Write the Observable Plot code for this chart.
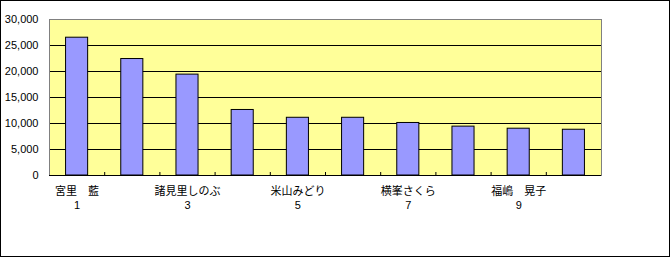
<!DOCTYPE html>
<html>
<head>
<meta charset="utf-8">
<script src="https://cdn.jsdelivr.net/npm/d3@7"></script>
<script src="https://cdn.jsdelivr.net/npm/@observablehq/plot@0.6"></script>
<style>
  html, body { margin: 0; padding: 0; background: #fff; }
  #wrap { position: relative; width: 670px; height: 257px; }
  #wrap svg { position: absolute; left: 0; top: 0; }
  #border { position: absolute; left: 0; top: 0; width: 668px; height: 255px; border: 1px solid #000; pointer-events: none; }
</style>
</head>
<body>
<div id="wrap"><div id="border"></div></div>
<script>
// Data
const ranks = [1, 2, 3, 4, 5, 6, 7, 8, 9, 10];
const values = [26500, 22400, 19400, 12600, 11100, 11100, 10100, 9400, 9000, 8800];
const labelNames = {1: "宮里　藍", 3: "諸見里しのぶ", 5: "米山みどり", 7: "横峯さくら", 9: "福嶋　晃子"};
const labeledRanks = [1, 3, 5, 7, 9];
const yTicks = [0, 5000, 10000, 15000, 20000, 25000, 30000];

const data = ranks.map((r, i) => ({rank: r, value: values[i]}));

const W = 670, H = 257;
const mL = 49, mR = 69, mT = 19, mB = 82;
const step = (W - mL - mR) / ranks.length;
const font = "'MS PGothic', 'Noto Sans CJK JP', sans-serif";
const numFont = "'MS PGothic', 'Liberation Sans', Arial, sans-serif";

const chart = Plot.plot({
  width: W,
  height: H,
  marginLeft: mL,
  marginRight: mR,
  marginTop: mT,
  marginBottom: mB,
  style: {fontFamily: font, fontSize: "11px", color: "#000", background: "transparent"},
  x: {domain: ranks, paddingInner: 0.6, paddingOuter: 0.3, round: false, label: null},
  y: {domain: [0, 30000], label: null},
  marks: [
    Plot.frame({fill: "#FFFF99", stroke: null}),
    Plot.gridY(yTicks.filter(d => d > 0 && d < 30000), {stroke: "#000", strokeOpacity: 1}),
    Plot.barY(data, {x: "rank", y: "value", fill: "#9999FF", stroke: "#000", strokeWidth: 1}),
    Plot.frame({stroke: "#808080"}),
    Plot.ruleY([0], {stroke: "#000"}),
    Plot.axisY({ticks: yTicks, tickSize: 0, tickPadding: 11, tickFormat: d3.format(","), fontSize: 11, fontFamily: numFont, line: true, stroke: "#000", label: null}),
    Plot.axisX({ticks: ranks.slice(0, -1), tickSize: -3, text: null, dx: step / 2, stroke: "#000", label: null}),
    Plot.axisX({ticks: labeledRanks, tickSize: 0, tickPadding: 12, fontSize: 11, fontFamily: font, label: null,
      tickFormat: d => labelNames[d]}),
    Plot.axisX({ticks: labeledRanks, tickSize: 0, tickPadding: 26, fontSize: 11, fontFamily: numFont, label: null,
      tickFormat: d => String(d)})
  ]
});
document.getElementById("wrap").prepend(chart);
</script>
</body>
</html>
